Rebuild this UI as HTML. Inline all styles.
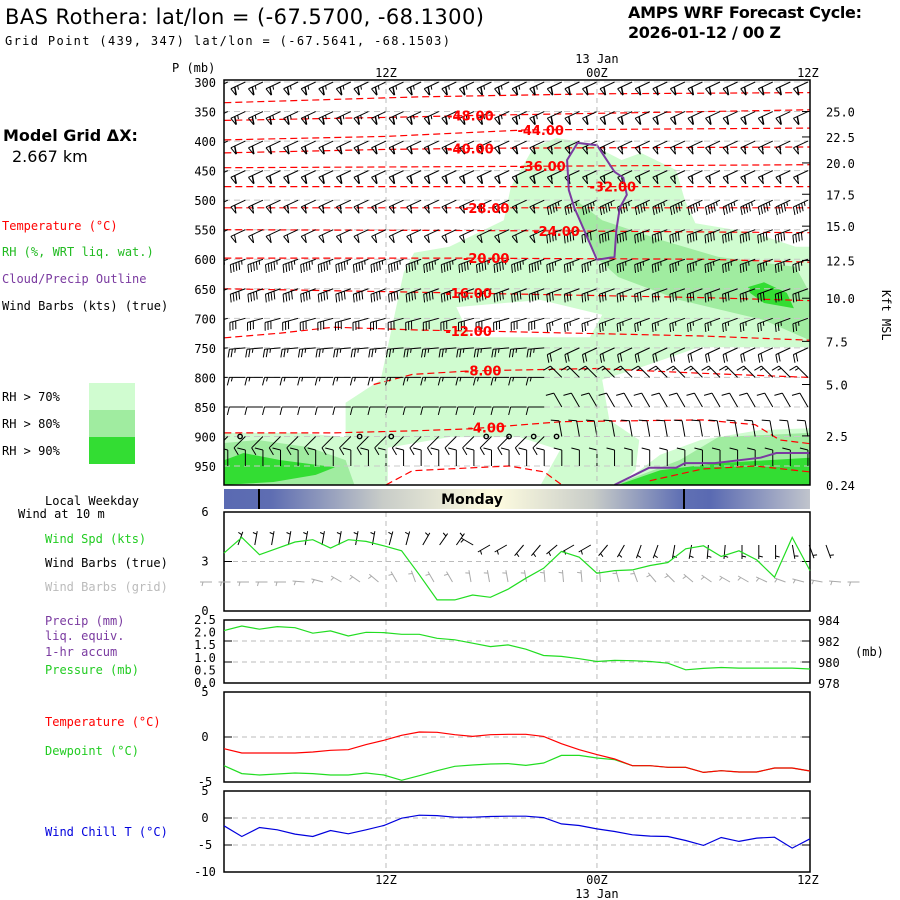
<!DOCTYPE html>
<html><head><meta charset="utf-8"><style>
html,body{margin:0;padding:0;background:#fff}
svg{display:block}
text{font-family:"DejaVu Sans","Liberation Sans",sans-serif}
.m{font-family:"DejaVu Sans Mono","Liberation Mono",monospace;font-size:12px}
</style></head><body>
<svg id="c" width="900" height="900" viewBox="0 0 900 900" xmlns="http://www.w3.org/2000/svg">
<defs>
<linearGradient id="day" x1="224" x2="810" y1="0" y2="0" gradientUnits="userSpaceOnUse">
<stop offset="0" stop-color="#5a6ab2"/><stop offset="0.08" stop-color="#5e6db2"/><stop offset="0.27" stop-color="#c8ccc8"/><stop offset="0.46" stop-color="#fffde0"/><stop offset="0.63" stop-color="#c8ccc8"/><stop offset="0.78" stop-color="#6070b4"/><stop offset="0.83" stop-color="#5a6ab2"/><stop offset="1" stop-color="#c0c4cc"/>
</linearGradient>
</defs>
<text x="5" y="24" font-size="21" textLength="479" font-family="Liberation Sans">BAS Rothera:  lat/lon = (-67.5700, -68.1300)</text>
<text x="5" y="45" class="m" font-size="13" textLength="445">Grid Point (439, 347) lat/lon = (-67.5641, -68.1503)</text>
<text x="628" y="18" font-size="16" font-weight="bold" textLength="234" font-family="Liberation Sans">AMPS WRF Forecast Cycle:</text>
<text x="628" y="38" font-size="16" font-weight="bold" textLength="153" font-family="Liberation Sans">2026-01-12 / 00  Z</text>
<text x="3" y="141" font-size="16" font-weight="bold" font-family="Liberation Sans">Model Grid ΔX:</text>
<text x="12" y="162" font-size="16" font-family="Liberation Sans">2.667 km</text>
<text x="2" y="230" class="m" font-size="13" fill="#ff0000">Temperature (°C)</text>
<text x="2" y="256" class="m" font-size="13" fill="#22bb22">RH (%, WRT liq. wat.)</text>
<text x="2" y="283" class="m" font-size="13" fill="#7a3aa0">Cloud/Precip Outline</text>
<text x="2" y="310" class="m" font-size="13">Wind Barbs (kts) (true)</text>
<rect x="89" y="383" width="46" height="27" fill="#d0fcd0"/>
<rect x="89" y="410" width="46" height="27" fill="#a0eca0"/>
<rect x="89" y="437" width="46" height="27" fill="#33dd33"/>
<text x="2" y="401" class="m" font-size="13">RH &gt; 70%</text>
<text x="2" y="428" class="m" font-size="13">RH &gt; 80%</text>
<text x="2" y="455" class="m" font-size="13">RH &gt; 90%</text>
<text x="45" y="505" class="m" font-size="13">Local Weekday</text>
<text x="18" y="518" class="m" font-size="9">Wind at 10 m</text>
<text x="45" y="543" class="m" font-size="13" fill="#22cc22">Wind Spd (kts)</text>
<text x="45" y="567" class="m" font-size="13">Wind Barbs (true)</text>
<text x="45" y="591" class="m" font-size="13" fill="#bbbbbb">Wind Barbs (grid)</text>
<text x="45" y="625" class="m" font-size="13" fill="#7a3aa0">Precip (mm)</text>
<text x="45" y="640" class="m" font-size="13" fill="#7a3aa0">liq. equiv.</text>
<text x="45" y="656" class="m" font-size="13" fill="#7a3aa0">1-hr accum</text>
<text x="45" y="674" class="m" font-size="13" fill="#22cc22">Pressure (mb)</text>
<text x="45" y="726" class="m" font-size="13" fill="#ff0000">Temperature (°C)</text>
<text x="45" y="755" class="m" font-size="13" fill="#22cc22">Dewpoint (°C)</text>
<text x="45" y="836" class="m" font-size="13" fill="#0000dd">Wind Chill T (°C)</text>
<text x="855" y="656" class="m" font-size="13">(mb)</text>
<text x="0" y="0" class="m" font-size="12" transform="translate(882,290) rotate(90)">Kft MSL</text>
<g id="main"></g>
</svg>
<script>
// ---------- data ----------
const levels=[300,350,400,450,500,550,600,650,700,750,800,850,900,950];
const heightTicks=[25.0,22.5,20.0,17.5,15.0,12.5,10.0,7.5,5.0,2.5,0.24];
const heightTickP=[350,393,437,490,544,602,666,739,812,899,982];
const levelSpeedEarly=[65,65,60,60,55,50,45,40,30,25,15,12,10,10];
const levelSpeedLate=[60,60,55,55,45,40,35,30,25,20,15,12,10,10];
const levelDirEarly=[245,245,245,245,245,245,250,250,255,265,270,270,225,0];
const levelDirLate=[245,245,245,245,245,250,250,250,250,245,315,330,350,0];
const rh70=[[2.8,982],[2.8,894],[7.1,894],[9.7,901],[9.7,843],[11.7,804],[13.0,623],[13.6,589],[15.6,579],[18.7,534],[19.1,478],[20.4,410],[21.7,395],[23.5,403],[25.4,432],[26.5,420],[28.5,449],[29.0,500],[29.6,539],[33.0,556],[35.3,579],[36.1,579],[36.1,749],[29.8,749],[26.4,784],[24.3,804],[24.7,872],[26.4,906],[26.2,957],[25.3,982]];
const rh70b=[[25.3,982],[27.6,931],[29.9,906],[33.3,889],[36.1,886],[36.1,982]];
const holeA=[[16.0,681],[20.8,669],[24.3,694],[23.6,732],[16.8,732]];
const holeB=[[12.1,919],[15.6,901],[19.6,901],[21.9,923],[20.8,982],[12.1,982]];
const rh80a=[[22.8,500],[24.3,534],[27.6,567],[30.9,596],[35.3,613],[36.1,657],[36.1,737],[33.5,703],[28.7,669],[25.2,630],[24.1,601],[23.0,534]];
const rh80b=[[2.8,911],[4.7,906],[7.6,918],[9.7,940],[10.2,982],[2.8,982]];
const rh80c=[[25.0,982],[28.7,940],[30.9,901],[36.1,894],[36.1,982]];
const rh90a=[[32.6,647],[33.5,639],[34.8,657],[35.2,683],[33.5,674],[32.7,657]];
const rh90b=[[2.8,940],[3.9,928],[6.0,940],[9.1,952],[8.0,965],[5.6,977],[2.8,982]];
const rh90c=[[25.2,982],[27.6,957],[30.9,945],[36.1,936],[36.1,982]];
const cloud=[[22.9,403],[24.0,407],[25.0,452],[25.5,462],[25.7,491],[25.3,513],[25.1,551],[25.0,596],[24.0,601],[22.7,512],[22.4,483],[22.3,432]];
const sfcCloud=[[25.0,982],[26.96,953],[28.5,953],[29.0,945],[30.7,945],[33.3,936],[34.2,928],[36.1,928]];
const isoValues=[-52,-48,-44,-40,-36,-32,-28,-24,-20,-16,-12,-8,-4,0,0];
const isoLines=[
[[2.8,335],[14,325],[24,320],[36.1,318]],
[[2.8,365],[12,360],[18,356],[36.1,347]],
[[2.8,398],[12,392],[20,381],[36.1,378]],
[[2.8,420],[12,414],[18,412],[36.1,410]],
[[2.8,445],[18,443],[36.1,440]],
[[2.8,477],[24,477],[36.1,477]],
[[2.8,513],[18,513],[36.1,513]],
[[2.8,550],[22,552],[36.1,555]],
[[2.8,598],[16,598],[30,600],[36.1,605]],
[[2.8,650],[16,657],[30,665],[36.1,670]],
[[2.8,733],[6,725],[9,715],[14,720],[18,722],[30,730],[36.1,737]],
[[11.3,812],[13.5,795],[16.8,789],[24,785],[30,793],[36.1,800]],
[[2.8,894],[9,894],[14,890],[16.8,887],[22,875],[30,872],[33,880],[34.4,906],[36.1,912]],
[[12,982],[13.5,958],[19,950],[21,960],[22,982]],
[[27,975],[30,955],[33,950],[36.1,960]]];
const isoLabelHour=[null,16.8,20.8,16.8,20.9,24.9,17.7,21.7,17.7,16.7,16.7,17.5,17.7,null,null];
const fogHours=[3.7,10.5,12.3,17.7,19.0,20.4,21.7];
// surface panels (evenly spaced across panel)
const windSpd=[3.51,4.46,3.41,3.8,4.18,4.32,3.81,4.32,4.22,3.95,3.65,2.2,0.67,0.67,0.97,0.83,1.32,1.99,2.59,3.61,3.26,2.29,2.45,2.49,2.76,2.94,3.77,3.95,3.30,3.65,3.10,2.05,4.46,2.45];
const windDirTrue=[20,10,10,10,10,10,10,10,10,15,15,30,35,35,300,240,240,220,220,230,240,240,220,210,200,200,190,190,185,185,180,180,180,170,160,160];
const windDirGrid=[270,270,270,270,270,275,285,300,305,310,330,340,330,330,350,350,350,350,355,355,355,355,345,340,320,315,310,305,300,300,295,290,285,280,275,270];
const pressure=[982.99,983.43,983.12,983.37,983.27,982.74,982.96,982.48,982.83,982.80,982.64,982.64,982.26,982.11,981.79,981.47,981.63,981.22,980.62,980.53,980.31,980.05,980.15,980.12,980.05,979.89,979.26,979.39,979.48,979.42,979.42,979.42,979.42,979.33];
const temp=[-1.30,-1.78,-1.78,-1.78,-1.78,-1.67,-1.48,-1.41,-0.85,-0.37,0.19,0.56,0.52,0.26,0.07,0.26,0.30,0.30,0.07,-0.74,-1.41,-1.96,-2.44,-3.19,-3.19,-3.37,-3.37,-3.93,-3.74,-3.89,-3.89,-3.44,-3.44,-3.78];
const dewpt=[-3.19,-4.07,-4.22,-4.11,-4.0,-4.07,-4.22,-4.22,-4.0,-4.22,-4.81,-4.30,-3.74,-3.26,-3.11,-3.0,-2.96,-3.15,-2.89,-2.04,-2.04,-2.33,-2.52,-3.19,-3.19,-3.37,-3.37,-3.93,-3.74,-3.89,-3.89,-3.44,-3.44,-3.78];
const windChill=[-1.45,-3.42,-1.76,-2.19,-2.99,-3.42,-2.32,-2.93,-2.19,-1.39,-0.04,0.51,0.45,0.14,0.14,0.27,0.33,0.33,0.08,-1.09,-1.39,-2.01,-2.50,-3.11,-3.36,-3.42,-4.16,-5.08,-3.61,-4.34,-3.73,-3.55,-5.57,-3.85];
const pTicks=[300,350,400,450,500,550,600,650,700,750,800,850,900,950];
const spdTicks=[0,3,6];
const precipTicks=["0.0","0.5","1.0","1.5","2.0","2.5"];
const presTicks=[978,980,982,984];
const tTicks=[-5,0,5];
const wcTicks=[-10,-5,0,5];

// ---------- drawing ----------
const NS="http://www.w3.org/2000/svg";
const root=document.getElementById('main');
function mk(tag,attrs,parent){const e=document.createElementNS(NS,tag);for(const k in attrs)e.setAttribute(k,attrs[k]);(parent||root).appendChild(e);return e;}
const L=224,R=810;
const X=h=>386+(h-12)*17.58;
const Y=p=>82+(p-300)*0.5908;
const pts=a=>a.map(d=>X(d[0]).toFixed(1)+','+Y(d[1]).toFixed(1)).join(' ');
const gMain=mk('g',{});


mk('defs',{},gMain).innerHTML='<clipPath id="cp"><rect x="224" y="80" width="586" height="405"/></clipPath>';
const gc=mk('g',{'clip-path':'url(#cp)'},gMain);
function poly(a,fill,name){const e=mk('polygon',{points:pts(a),fill:fill},gc);}
poly(rh70,'#d0fcd0','rh70-region');poly(rh70b,'#d0fcd0','rh70-region-sfc');
poly(holeA,'#ffffff','rh-gap');poly(holeB,'#ffffff','rh-gap-low');
poly(rh80a,'#a0eca0','rh80-region');poly(rh80b,'#a0eca0','rh80-region-sw');poly(rh80c,'#a0eca0','rh80-region-se');
poly(rh90a,'#33dd33','rh90-region');poly(rh90b,'#33dd33','rh90-region-sw');poly(rh90c,'#33dd33','rh90-region-se');
levels.forEach(p=>{const e=mk('line',{x1:L,x2:R,y1:Y(p),y2:Y(p),stroke:'#c8c8c8','stroke-dasharray':'6,4','stroke-width':1},gc);});
isoLines.forEach((ln,i)=>{
 const e=mk('polyline',{points:pts(ln),fill:'none',stroke:'#ff0000','stroke-width':1.2,'stroke-dasharray':'7,4'},gc);
 
});
function barb(g,x,y,dir,spd,L0,col){
 const r=dir*Math.PI/180,ux=Math.sin(r),uy=-Math.cos(r);
 const ex=x+ux*L0,ey=y+uy*L0;let d=`M${x},${y}L${ex},${ey}`;
 const px=uy,py=-ux;let s=spd,pos=0;
 while(s>=47.5){const bx=ex-ux*pos,by=ey-uy*pos;d+=`M${bx},${by}L${bx+px*8-ux*2},${by+py*8-uy*2}L${bx-ux*4},${by-uy*4}`;pos+=4.5;s-=50;}
 while(s>=7.5){const bx=ex-ux*pos,by=ey-uy*pos;d+=`M${bx},${by}L${bx+px*8+ux*2},${by+py*8+uy*2}`;pos+=3;s-=10;}
 if(s>=2.5){if(pos===0)pos=3;const bx=ex-ux*pos,by=ey-uy*pos;d+=`M${bx},${by}L${bx+px*4+ux},${by+py*4+uy}`;}
 return mk('path',{d:d,stroke:col,fill:'none','stroke-width':1},g);
}
const gb=mk('g',{},gc);
levels.forEach((p,i)=>{for(let h=3;h<=36;h++){const late=h>=22;
 const e=barb(gb,X(h),Y(p),late?levelDirLate[i]:levelDirEarly[i],late?levelSpeedLate[i]:levelSpeedEarly[i],16,'#000');
 }});
let e=mk('polygon',{points:pts(cloud),fill:'none',stroke:'#7a3aa0','stroke-width':2},gc);
e=mk('polyline',{points:pts(sfcCloud),fill:'none',stroke:'#7a3aa0','stroke-width':2},gc);
fogHours.forEach(h=>{const c=mk('circle',{cx:X(h),cy:Y(900),r:2.2,fill:'none',stroke:'#000','stroke-width':1.4},gc);});
isoLines.forEach((ln,i)=>{const h=isoLabelHour[i];if(h==null)return;
 let p=ln[0][1];for(let k=0;k<ln.length-1;k++){if(h>=ln[k][0]&&h<=ln[k+1][0]){const f=(h-ln[k][0])/(ln[k+1][0]-ln[k][0]);p=ln[k][1]+f*(ln[k+1][1]-ln[k][1]);}}
 const t=mk('text',{x:X(h),y:Y(p)+5,'text-anchor':'middle','font-size':13,'font-weight':'bold',fill:'#ff0000','font-family':'Liberation Sans'},gc);
 t.textContent=isoValues[i].toFixed(2);
 });
function vlines(y1,y2){[12,24].forEach(h=>{const l=mk('line',{x1:X(h),x2:X(h),y1:y1,y2:y2,stroke:'#bbbbbb','stroke-dasharray':'5,4'});});}
vlines(80,485);
e=mk('rect',{x:L,y:80,width:R-L,height:405,fill:'none',stroke:'#000','stroke-width':1.5});
pTicks.forEach(p=>{const t=mk('text',{x:216,y:Y(p)+5,'text-anchor':'end',class:'m','font-size':14});t.textContent=p;});
e=mk('text',{x:172,y:72,class:'m','font-size':11});e.textContent='P (mb)';
heightTicks.forEach((v,i)=>{const y=Y(heightTickP[i]);mk('line',{x1:R-8,x2:R,y1:y,y2:y,stroke:'#000'});
 const t=mk('text',{x:826,y:y+5,class:'m','font-size':13});t.textContent=v.toFixed(v<1?2:1);});
[[12,'12Z'],[24,'00Z'],[36,'12Z']].forEach(d=>{const t=mk('text',{x:X(d[0]),y:77,'text-anchor':'middle',class:'m','font-size':13});t.textContent=d[1];
 const b=mk('text',{x:X(d[0]),y:884,'text-anchor':'middle',class:'m','font-size':13});b.textContent=d[1];});
e=mk('text',{x:X(24),y:63,'text-anchor':'middle',class:'m','font-size':12});e.textContent='13 Jan';
e=mk('text',{x:X(24),y:898,'text-anchor':'middle',class:'m','font-size':13});e.textContent='13 Jan';
e=mk('rect',{x:L,y:489,width:R-L,height:20,fill:'url(#day)'});
[259,684].forEach(x=>{const l=mk('line',{x1:x,x2:x,y1:489,y2:509,stroke:'#000','stroke-width':2});});
e=mk('text',{x:472,y:504,'text-anchor':'middle','font-size':14,'font-weight':'bold','font-family':'Liberation Sans'});e.textContent='Monday';
function panel(top,bot,vmin,vmax,name){
 const fy=v=>bot-(v-vmin)/(vmax-vmin)*(bot-top);
 vlines(top,bot);
 const r=mk('rect',{x:L,y:top,width:R-L,height:bot-top,fill:'none',stroke:'#000','stroke-width':1.5});
 
 return fy;}
function hgrid(y){const l=mk('line',{x1:L,x2:R,y1:y,y2:y,stroke:'#bbbbbb','stroke-dasharray':'5,4'});
 mk('line',{x1:L,x2:L+8,y1:y,y2:y,stroke:'#000'});mk('line',{x1:R-8,x2:R,y1:y,y2:y,stroke:'#000'});}
function tick(x,y,txt,anchor,size){const t=mk('text',{x:x,y:y,'text-anchor':anchor,class:'m','font-size':size||12});t.textContent=txt;}
function line(arr,fy,col,name){const n=arr.length;const p=arr.map((v,i)=>(L+i*(R-L)/(n-1)).toFixed(1)+','+fy(v).toFixed(1)).join(' ');
 const l=mk('polyline',{points:p,fill:'none',stroke:col,'stroke-width':1.2});}
let fy=panel(512,611,0,6,'wind-panel');hgrid(fy(3));
spdTicks.forEach(v=>tick(205,fy(v)+4,v,'middle'));
windDirTrue.forEach((d,i)=>{const x=L+14+i*16.8;const b=barb(root,x,545,d,5,14,'#000');});
windDirGrid.forEach((d,i)=>{const x=L-12+i*18.5;const b=barb(root,x,582,d,5,12,'#aaaaaa');});
line(windSpd,fy,'#22dd22','wind-speed-line');
fy=panel(620,683,978,984,'pressure-panel');hgrid(fy(980));hgrid(fy(982));
precipTicks.forEach((t,i)=>tick(205,683-i*12.6+4,t,'middle'));
presTicks.forEach(v=>tick(818,fy(v)+5,v,'start'));
line(pressure,fy,'#22dd22','pressure-line');
fy=panel(692,782,-5,5,'temperature-panel');hgrid(fy(0));
tTicks.forEach(v=>tick(205,fy(v)+4,v,'middle'));
line(dewpt,fy,'#22dd22','dewpoint-line');line(temp,fy,'#ff0000','temperature-line');
fy=panel(791,872,-10,5,'wind-chill-panel');hgrid(fy(0));hgrid(fy(-5));
wcTicks.forEach(v=>tick(205,fy(v)+4,v,'middle'));
line(windChill,fy,'#0000dd','wind-chill-line');
</script>
</body></html>
